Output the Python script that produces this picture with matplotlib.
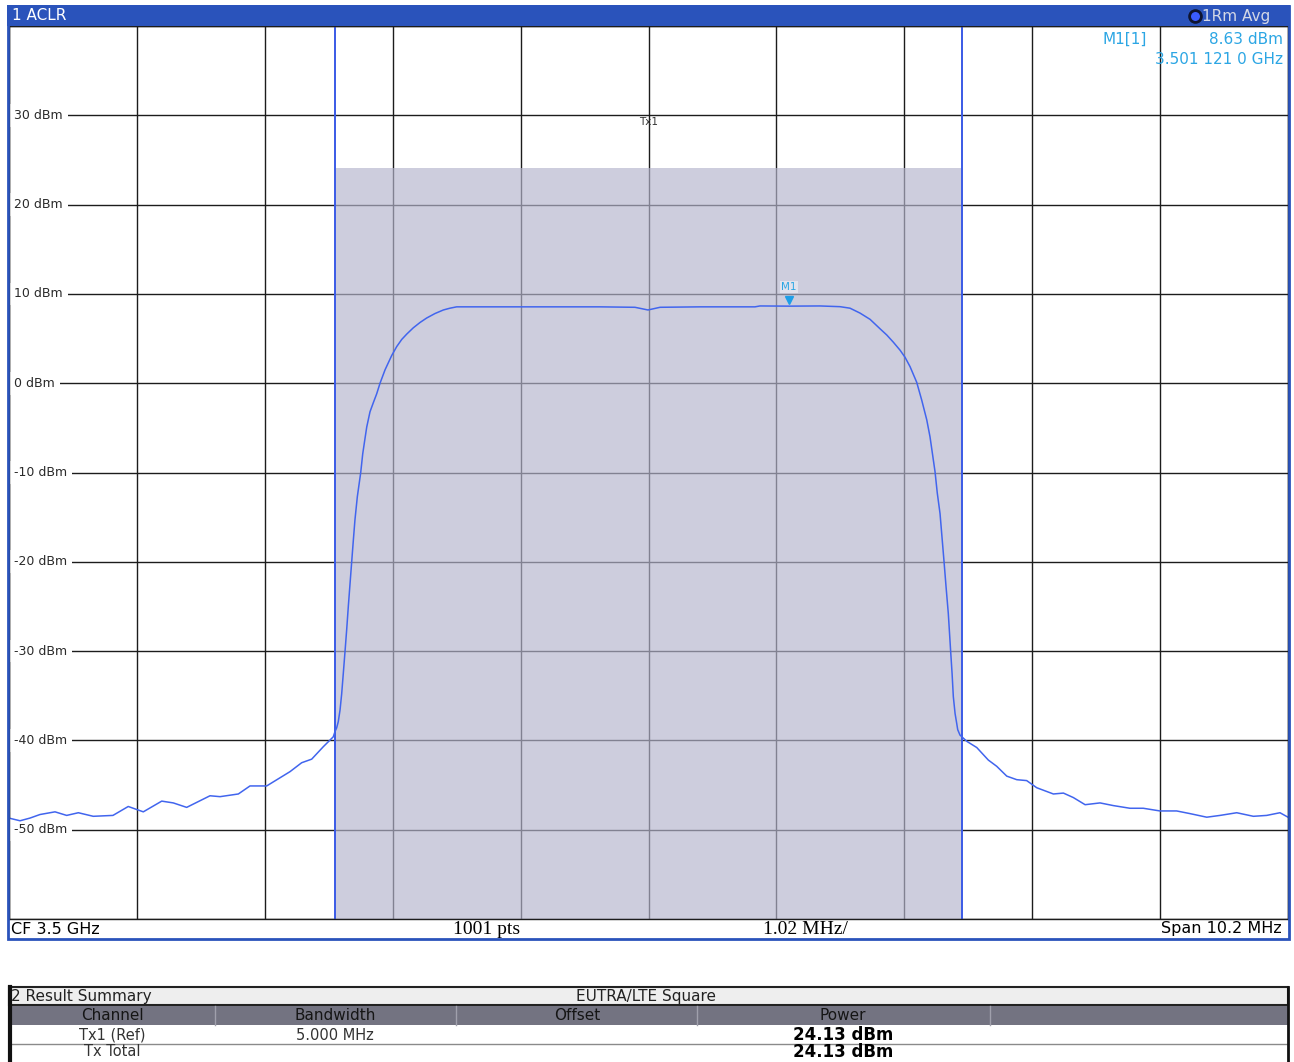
import matplotlib
matplotlib.use('Agg')
import matplotlib.pyplot as plt
from matplotlib.patches import Rectangle
import numpy as np

# spectrum analyzer settings
cf_ghz = 3.5
span_mhz = 10.2
n_points = 1001
ref_top = 40
ref_bottom = -60

# channel (Tx1) settings and result
chan_bw_mhz = 5.0
tx_power_dbm = 24.13

# marker M1
m1_mhz = 1.121
m1_dbm = 8.63

# measured trace, offset from CF in MHz / level in dBm
trace_mhz = [-5.100, -5.012, -4.933, -4.853, -4.733, -4.640, -4.547, -4.428, -4.271, -4.149,
             -4.029, -3.882, -3.790, -3.683, -3.497, -3.417, -3.271, -3.178, -3.045, -2.859,
             -2.766, -2.686, -2.593, -2.514,
             -2.500, -2.487, -2.474, -2.460, -2.447, -2.434, -2.420, -2.407, -2.394, -2.380,
             -2.367, -2.354, -2.341, -2.322, -2.295, -2.279, -2.261, -2.247, -2.221, -2.195,
             -2.168, -2.141, -2.101, -2.048, -2.008, -1.968, -1.928, -1.876, -1.822, -1.769,
             -1.703, -1.636, -1.583, -1.530,
             -1.025, -0.387, -0.108, -0.004, 0.092, 0.411, 0.849, 0.889, 1.121, 1.368, 1.527,
             1.607, 1.687, 1.767, 1.846, 1.900, 1.952, 2.006, 2.046, 2.086, 2.139, 2.179,
             2.219, 2.245, 2.285, 2.303, 2.325, 2.338, 2.357, 2.373, 2.391, 2.410, 2.421,
             2.431, 2.445, 2.458, 2.466, 2.484,
             2.538, 2.618, 2.710, 2.777, 2.857, 2.937, 3.016, 3.096, 3.229, 3.309, 3.388,
             3.482, 3.601, 3.707, 3.840, 3.946, 4.079, 4.212, 4.319, 4.452, 4.558, 4.691,
             4.824, 4.930, 5.036, 5.100]
trace_dbm = [-48.7, -49.0, -48.7, -48.3, -48.0, -48.4, -48.1, -48.5, -48.4, -47.4,
             -48.0, -46.8, -47.0, -47.5, -46.2, -46.3, -46.0, -45.1, -45.1, -43.5,
             -42.5, -42.1, -40.7, -39.6,
             -39.0, -38.6, -37.9, -36.6, -34.8, -32.5, -30.0, -27.6, -25.0, -22.4,
             -20.0, -17.6, -15.3, -12.7, -10.0, -7.9, -6.2, -4.9, -3.2, -2.2,
             -1.2, 0.0, 1.5, 3.1, 4.1, 4.9, 5.5, 6.2, 6.8, 7.3,
             7.8, 8.2, 8.4, 8.55,
             8.55, 8.55, 8.5, 8.2, 8.5, 8.55, 8.55, 8.65, 8.63, 8.65, 8.57,
             8.4, 7.85, 7.15, 6.1, 5.4, 4.6, 3.7, 2.9, 1.85, 0.1, -1.9,
             -4.1, -6.0, -9.9, -12.3, -14.6, -16.8, -20.0, -22.8, -25.8, -30.1, -32.5,
             -35.1, -37.0, -38.1, -38.8, -39.4,
             -40.1, -40.8, -42.2, -42.9, -44.0, -44.4, -44.5, -45.3, -46.0, -45.9, -46.4,
             -47.2, -47.0, -47.3, -47.6, -47.6, -47.9, -47.9, -48.2, -48.6, -48.4, -48.1,
             -48.5, -48.4, -48.1, -48.6]

level_labels = [30, 20, 10, 0, -10, -20, -30, -40, -50]

# result summary table
table_cols = ['Channel', 'Bandwidth', 'Offset', 'Power']
table_rows = [['Tx1 (Ref)', '%.3f MHz' % chan_bw_mhz, '', '%.2f dBm' % tx_power_dbm],
              ['Tx Total', '', '', '%.2f dBm' % tx_power_dbm]]

W, H = 1294, 1062
BLUE = '#2a53bb'
CYAN = '#2ca6e4'

fig = plt.figure(figsize=(W / 100, H / 100), dpi=100)
plt.rcParams['font.family'] = 'DejaVu Sans'


def frac(x0, y0, x1, y1):
    return [x0 / W, 1 - y1 / H, (x1 - x0) / W, (y1 - y0) / H]


# ---- diagram area ----
ax = fig.add_axes(frac(9, 26, 1288, 919))
half = span_mhz / 2
ax.set_xlim(-half, half)
ax.set_ylim(ref_bottom, ref_top)
ax.set_xticks(np.linspace(-half, half, 11))
ax.set_yticks(np.arange(ref_bottom, ref_top + 1, 10))
ax.tick_params(length=0, labelbottom=False, labelleft=False)
ax.grid(True, color='#1c1c1c', lw=1.0)
ax.set_axisbelow(True)
for sp in ax.spines.values():
    sp.set_color('#1c1c1c')
    sp.set_linewidth(1.0)
    sp.set_zorder(7)

# channel bar
cb = chan_bw_mhz / 2
ax.fill_between([-cb, cb], ref_bottom, tx_power_dbm,
                color=(180 / 255, 180 / 255, 205 / 255), alpha=0.667, lw=0, zorder=1)
ax.axvline(-cb, color='#3a5ae6', lw=1.4, zorder=3)
ax.axvline(cb, color='#3a5ae6', lw=1.4, zorder=3)
ax.text(0, 29.3, 'Tx1', ha='center', va='center', fontsize=7.5, color='#333333', zorder=5)

ax.plot(trace_mhz, trace_dbm, color='#4165ee', lw=1.1, zorder=6, solid_joinstyle='round')

# marker
ax.plot(m1_mhz, m1_dbm + 0.7, marker='v', ms=6, color='#1e9fe8', ls='none', zorder=6)
ax.text(m1_mhz, m1_dbm + 2.15, 'M1', ha='center', va='center', fontsize=7.5, color=CYAN,
        bbox=dict(fc='#e2e2ec', ec='none', pad=1), zorder=6)

for v in level_labels:
    ax.text(0.004, v, '%d dBm' % v, transform=ax.get_yaxis_transform(), fontsize=9,
            ha='left', va='center', color='#2a2a2a',
            bbox=dict(fc='white', ec='none', pad=3.5), zorder=5)

# ---- window chrome, table and readouts (pixel coordinates) ----
ov = fig.add_axes([0, 0, 1, 1])
ov.set_xlim(0, W)
ov.set_ylim(H, 0)
ov.axis('off')
ov.set_zorder(5)

ov.add_patch(Rectangle((7, 5), 1283, 21, fc=BLUE, ec='none'))
ov.add_patch(Rectangle((8, 6), 1281, 933, fill=False, ec=BLUE, lw=2))
ov.text(12, 16, '1 ACLR', color='white', fontsize=11, va='center')
ov.plot(1195, 16, 'o', ms=8.5, mfc='#3a5cff', mec='#0e1430', mew=2)
ov.text(1202, 16, '1Rm Avg', color='#d4d8e6', fontsize=11, va='center')

freq_txt = '%.7f' % ((cf_ghz * 1000 + m1_mhz) / 1000)
freq_txt = freq_txt[:5] + ' ' + freq_txt[5:8] + ' ' + freq_txt[8:]
ov.text(1147, 39, 'M1[1]', color=CYAN, fontsize=11, ha='right', va='center')
ov.text(1283, 39, '%.2f dBm' % m1_dbm, color=CYAN, fontsize=11, ha='right', va='center')
ov.text(1283, 60, freq_txt + ' GHz', color=CYAN, fontsize=11, ha='right', va='center')

ov.text(11, 929, 'CF %g GHz' % cf_ghz, fontsize=11.5, va='center')
ov.text(487, 929, '%d pts' % n_points, fontsize=14, ha='center', va='center',
        family='Liberation Serif')
ov.text(805, 929, '%.2f MHz/' % (span_mhz / 10), fontsize=14, ha='center', va='center',
        family='Liberation Serif')
ov.text(1282, 929, 'Span %g MHz' % span_mhz, fontsize=11.5, ha='right', va='center')

# result summary
ov.add_patch(Rectangle((9, 987), 1279, 18, fc='#eeeeee', ec='#222222', lw=1.5))
ov.add_patch(Rectangle((9, 1006), 1279, 19, fc='#737381', ec='none'))
for x in [215, 456, 697, 990]:
    ov.plot([x, x], [1006, 1025], color='#a0a0ac', lw=1)
ov.plot([9, 1288], [1044, 1044], color='#8a8a8a', lw=1)
ov.plot([9.5, 9.5], [987, 1062], color='#111111', lw=3)
ov.plot([1288, 1288], [987, 1062], color='#111111', lw=2)
ov.text(11, 996, '2 Result Summary', fontsize=11, va='center', color='#222222')
ov.text(646, 996, 'EUTRA/LTE Square', fontsize=11, ha='center', va='center', color='#222222')

col_x = [112, 335, 577, 843]
for x, name in zip(col_x, table_cols):
    ov.text(x, 1015.5, name, fontsize=11, ha='center', va='center', color='#151515')
for y, row in zip([1035, 1052], table_rows):
    for i, (x, val) in enumerate(zip(col_x, row)):
        if i == 3:
            ov.text(x, y, val, fontsize=12, ha='center', va='center', weight='bold')
        else:
            ov.text(x, y, val, fontsize=10.5, ha='center', va='center', color='#333333')

fig.savefig('out.png', dpi=100)
